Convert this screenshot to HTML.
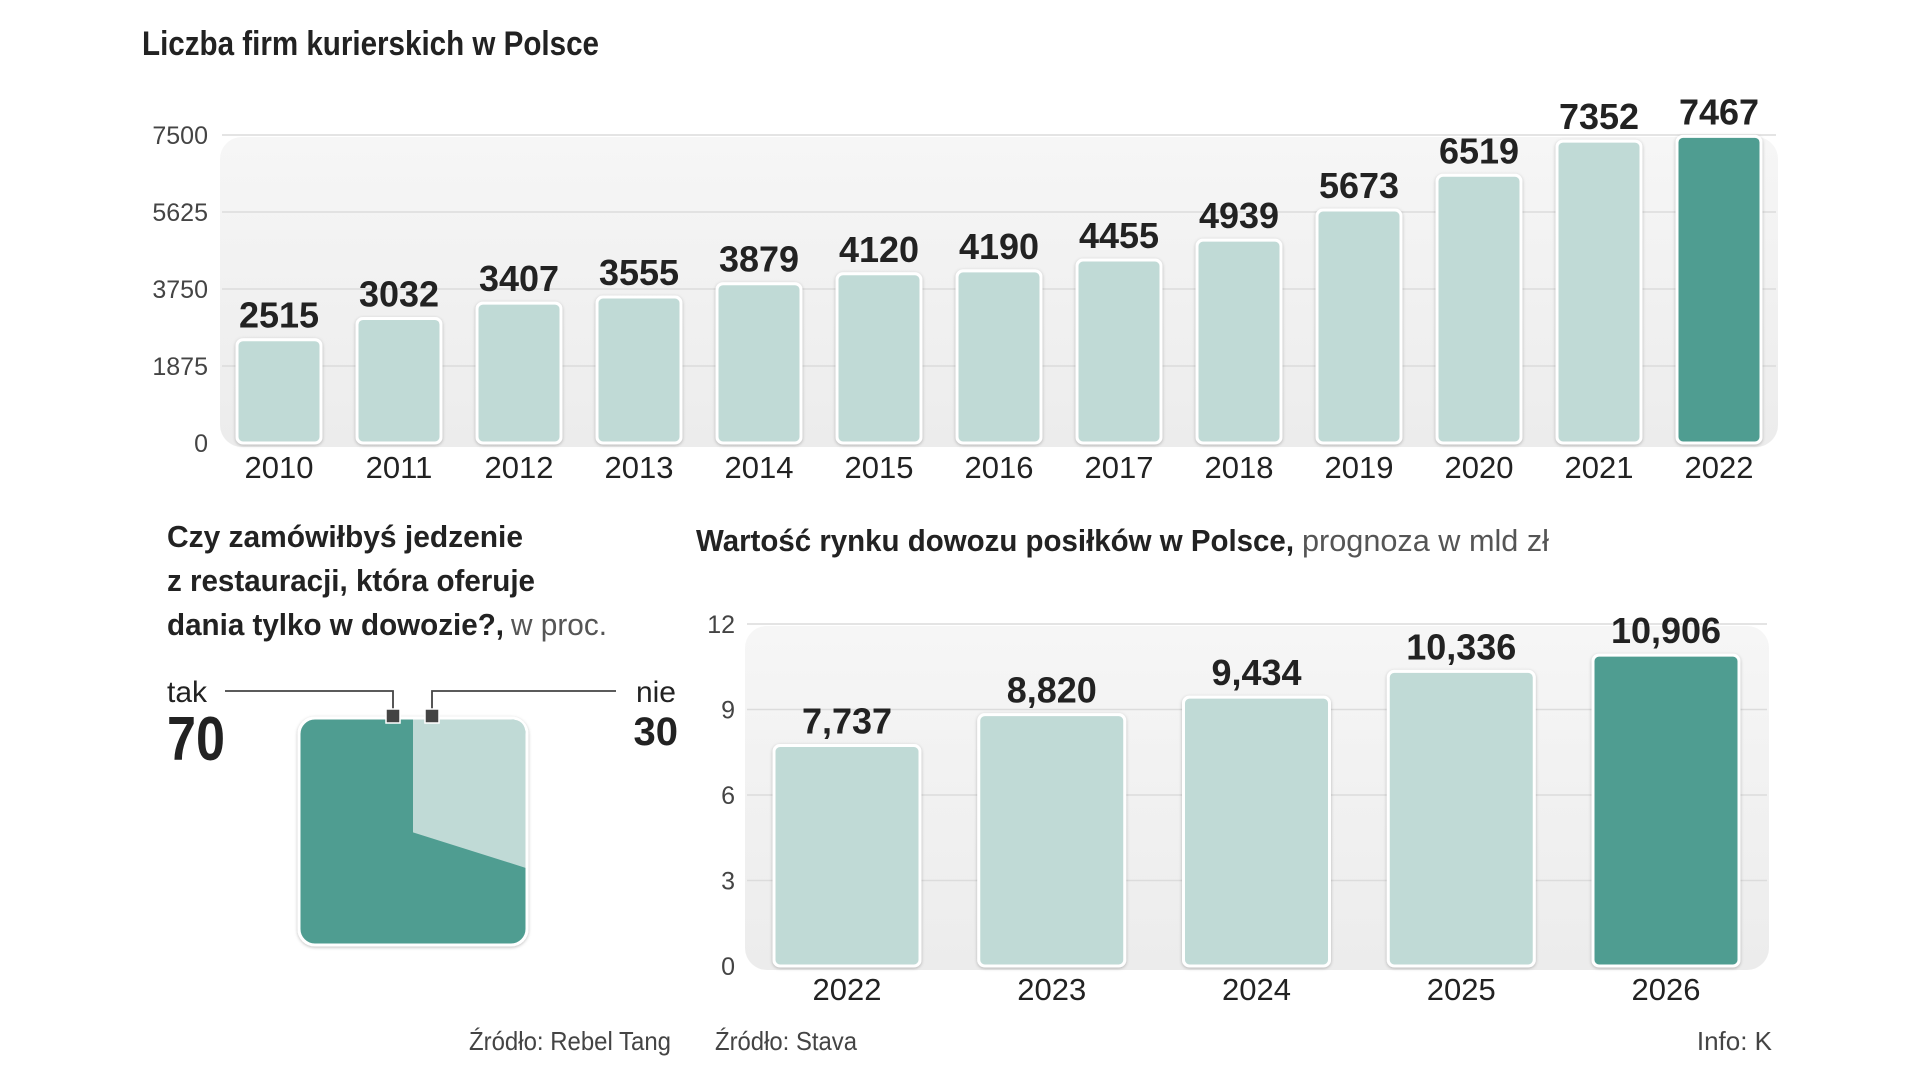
<!DOCTYPE html>
<html><head><meta charset="utf-8"><style>
html,body{margin:0;padding:0;background:#fff;width:1920px;height:1080px;overflow:hidden}
svg{display:block}
text{font-family:"Liberation Sans Narrow","Liberation Sans",sans-serif;fill:#222}
.b{font-weight:bold}
.tick{font-size:25px;fill:#444}
.yr{font-size:31px;fill:#222}
.val{font-size:36px;font-weight:bold;fill:#222}
.src{font-size:26px;fill:#444}
</style></head><body>
<svg id="c" width="1920" height="1080" viewBox="0 0 1920 1080">
<defs>
<linearGradient id="pg" x1="0" y1="0" x2="0" y2="1"><stop offset="0" stop-color="#f6f6f6"/><stop offset="1" stop-color="#ececec"/></linearGradient>
<filter id="sh" x="-10%" y="-10%" width="120%" height="120%"><feDropShadow dx="0" dy="1" stdDeviation="1.5" flood-color="#000" flood-opacity="0.25"/></filter>
</defs>
<text x="142" y="55" class="b" font-size="34" textLength="457" lengthAdjust="spacingAndGlyphs">Liczba firm kurierskich w Polsce</text>
<rect x="220" y="137" width="1558" height="310" rx="22" fill="url(#pg)"/>
<g id="g1"></g>

<g>
<text x="167" y="547" class="b" font-size="31" textLength="356" lengthAdjust="spacingAndGlyphs">Czy zamówiłbyś jedzenie</text>
<text x="167" y="591" class="b" font-size="31" textLength="368" lengthAdjust="spacingAndGlyphs">z restauracji, która oferuje</text>
<text x="167" y="635" class="b" font-size="31" textLength="337" lengthAdjust="spacingAndGlyphs">dania tylko w dowozie?,</text>
<text x="511" y="635" font-size="31" fill="#555" textLength="96" lengthAdjust="spacingAndGlyphs" style="fill:#555">w proc.</text>
</g>
<text x="167" y="702" font-size="30">tak</text>
<text x="167" y="760" font-size="62" class="b" textLength="58" lengthAdjust="spacingAndGlyphs">70</text>
<text x="676" y="702" font-size="30" text-anchor="end">nie</text>
<text x="678" y="745" font-size="40" class="b" text-anchor="end">30</text>
<g id="w"></g>

<text x="696" y="551" font-size="31" class="b" textLength="598" lengthAdjust="spacingAndGlyphs">Wartość rynku dowozu posiłków w Polsce,</text>
<text x="1302" y="551" font-size="31" textLength="247" lengthAdjust="spacingAndGlyphs" style="fill:#555">prognoza w mld zł</text>
<rect x="745" y="626" width="1024" height="344" rx="22" fill="url(#pg)"/>
<g id="g2"></g>

<text x="671" y="1050" class="src" text-anchor="end" textLength="202" lengthAdjust="spacingAndGlyphs">Źródło: Rebel Tang</text>
<text x="715" y="1050" class="src" textLength="142" lengthAdjust="spacingAndGlyphs">Źródło: Stava</text>
<text x="1772" y="1050" class="src" text-anchor="end">Info: K</text>
</svg>
<script>
const years1=["2010","2011","2012","2013","2014","2015","2016","2017","2018","2019","2020","2021","2022"];
const values1=[2515,3032,3407,3555,3879,4120,4190,4455,4939,5673,6519,7352,7467];
const ticks1=[0,1875,3750,5625,7500];
const years2=["2022","2023","2024","2025","2026"];
const values2=[7.737,8.820,9.434,10.336,10.906];
const labels2=["7,737","8,820","9,434","10,336","10,906"];
const ticks2=[0,3,6,9,12];
const pollLabels=["tak","nie"];
const pollValues=[70,30];

const NS="http://www.w3.org/2000/svg";
function mk(p,t,a){const e=document.createElementNS(NS,t);for(const k in a)e.setAttribute(k,a[k]);p.appendChild(e);return e;}

function barChart(g,cats,vals,labs,ticks,o){
  const y=v=>o.y0-v*(o.y0-o.y1)/ticks[ticks.length-1];
  const x=i=>o.c0+i*o.step;
  ticks.forEach(t=>{
    if(t>0){const l=mk(g,'line',{x1:o.px0,x2:o.px1,y1:y(t),y2:y(t),stroke:'#dcdcdc','stroke-width':1.5});
    
    }
    const tx=mk(g,'text',{x:o.tx,y:y(t)+9,'text-anchor':'end',class:'tick'});tx.textContent=t;
    
    
  });
  vals.forEach((v,i)=>{
    const last=i===vals.length-1;
    const r=mk(g,'rect',{x:x(i)-o.w/2,y:y(v),width:o.w,height:o.y0-y(v),rx:6,fill:last?'#4f9d91':'#c0dad6',stroke:'#fff','stroke-width':3,filter:'url(#sh)'});
    
    
    const t=mk(g,'text',{x:x(i),y:y(v)-12,'text-anchor':'middle',class:'val'});t.textContent=labs[i];
    
    
    const c=mk(g,'text',{x:x(i),y:o.yl,'text-anchor':'middle',class:'yr'});c.textContent=cats[i];
    
    
  });
}
barChart(document.getElementById('g1'),years1,values1,values1.map(String),ticks1,{y0:443,y1:135,c0:279,step:120,w:84,px0:222,px1:1776,tx:208,yl:478});
barChart(document.getElementById('g2'),years2,values2,labels2,ticks2,{y0:966,y1:624,c0:847,step:204.75,w:146,px0:747,px1:1767,tx:735,yl:1000});

(function(){
  const g=document.getElementById('w');
  const X0=299,X1=527,Y0=718,Y1=945;
  const bg=mk(g,'rect',{x:X0,y:Y0,width:X1-X0,height:Y1-Y0,rx:16,fill:'#4f9d91',stroke:'#fff','stroke-width':3,filter:'url(#sh)'});
  
  
  const share=pollValues[1]/(pollValues[0]+pollValues[1]);
  const xs=X0+(X1-X0)*(0.5);
  const yl=Y0+(Y1-Y0)*(share*1.68), yr=Y0+(Y1-Y0)*(share*2.2);
  const p=mk(g,'path',{d:`M${xs} ${Y0+1.5} L${X1-16} ${Y0+1.5} Q${X1-1.5} ${Y0+1.5} ${X1-1.5} ${Y0+16} L${X1-1.5} ${yr} L${xs} ${yl} Z`,fill:'#c0dad6'});
  
  
  const l1=mk(g,'polyline',{points:`225,691 393,691 393,712`,fill:'none',stroke:'#444','stroke-width':1.8});
  
  
  const l2=mk(g,'polyline',{points:`616,691 432,691 432,712`,fill:'none',stroke:'#444','stroke-width':1.8});
  
  
  [393,432].forEach(cx=>{const s=mk(g,'rect',{x:cx-7,y:709,width:14,height:14,fill:'#444',stroke:'#fff','stroke-width':1.5});
  
  });
})();
</script>
</body></html>
